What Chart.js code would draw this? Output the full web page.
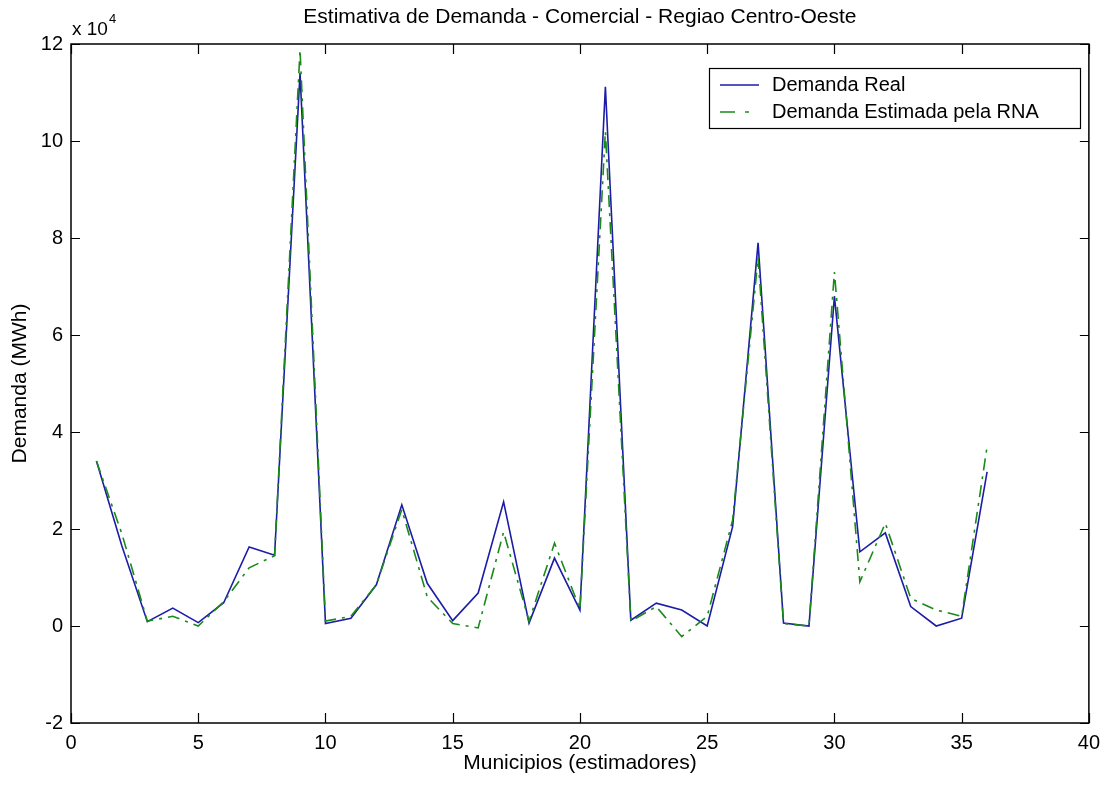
<!DOCTYPE html>
<html>
<head>
<meta charset="utf-8">
<script src="https://cdn.jsdelivr.net/npm/chart.js@4.4.0/dist/chart.umd.min.js"></script>
<style>
  html, body { margin: 0; padding: 0; background: #fff; }
  #wrap { width: 1108px; height: 785px; }
</style>
</head>
<body>
<div id="wrap"><canvas id="chart1" width="1108" height="785"></canvas></div>
<script>
// municipios 1..36, demanda em MWh
const municipios = [1,2,3,4,5,6,7,8,9,10,11,12,13,14,15,16,17,18,19,20,21,22,23,24,25,26,27,28,29,30,31,32,33,34,35,36];
const demandaReal = [34000, 16500, 900, 3700, 700, 4800, 16300, 14600, 114000, 500, 1600, 8500, 25000, 8800, 1100, 6800, 25600, 600, 14000, 3300, 111200, 1200, 4700, 3300, 0, 20500, 79000, 600, 0, 68000, 15300, 19200, 4000, 0, 1600, 31800];
const demandaRNA = [34000, 19000, 1000, 2000, 0, 5000, 12000, 14500, 118800, 1000, 2000, 8500, 24000, 6000, 500, -400, 19400, 1000, 17100, 3500, 102000, 1000, 4000, -2200, 2000, 21800, 76000, 500, 0, 73000, 9100, 21200, 5700, 3300, 2000, 37000];
const xTicks = [0, 5, 10, 15, 20, 25, 30, 35, 40];
const yTicks = [-20000, 0, 20000, 40000, 60000, 80000, 100000, 120000];
const titulo = 'Estimativa de Demanda - Comercial - Regiao Centro-Oeste';

const fontFam = "'Liberation Sans', Arial, sans-serif";

const toPts = (ys) => ys.map((y, i) => ({ x: municipios[i], y: y }));

// moldura estilo matlab, ticks para dentro + titulo + legenda + "x 10^4"
const matlabBox = {
  id: 'matlabBox',
  afterDatasetsDraw(chart) {
    const ctx = chart.ctx;
    const a = chart.chartArea;
    const xs = chart.scales.x, ys = chart.scales.y;
    ctx.save();
    ctx.strokeStyle = '#000';
    ctx.lineWidth = 1.5;
    ctx.strokeRect(a.left, a.top, a.right - a.left, a.bottom - a.top);
    ctx.lineWidth = 1.2;
    ctx.beginPath();
    xTicks.forEach(v => {
      const px = Math.round(xs.getPixelForValue(v)) + 0.5;
      ctx.moveTo(px, a.bottom); ctx.lineTo(px, a.bottom - 10);
      ctx.moveTo(px, a.top); ctx.lineTo(px, a.top + 10);
    });
    yTicks.forEach(v => {
      const py = Math.round(ys.getPixelForValue(v)) + 0.5;
      ctx.moveTo(a.left, py); ctx.lineTo(a.left + 9, py);
      ctx.moveTo(a.right, py); ctx.lineTo(a.right - 9, py);
    });
    ctx.stroke();

    // titulo centrado no eixo
    ctx.fillStyle = '#000';
    ctx.textAlign = 'center';
    ctx.textBaseline = 'middle';
    ctx.font = '21px ' + fontFam;
    ctx.fillText(titulo, (a.left + a.right) / 2, 17);

    // expoente
    ctx.textBaseline = 'alphabetic';
    ctx.textAlign = 'left';
    ctx.font = '19px ' + fontFam;
    ctx.fillText('x 10', 72, 35);
    const w = ctx.measureText('x 10').width;
    ctx.font = '13px ' + fontFam;
    ctx.fillText('4', 72 + w + 1, 23);

    // legenda
    const lx = 709, ly = 68, lw = 371, lh = 60;
    ctx.fillStyle = '#fff';
    ctx.fillRect(lx, ly, lw, lh);
    ctx.strokeStyle = '#000';
    ctx.lineWidth = 1.2;
    ctx.strokeRect(lx + 0.5, ly + 0.5, lw, lh);
    ctx.font = '20px ' + fontFam;
    ctx.textBaseline = 'middle';
    chart.data.datasets.forEach((ds, i) => {
      const cy = ly + 17 + i * 27;
      ctx.strokeStyle = ds.borderColor;
      ctx.lineWidth = ds.borderWidth;
      ctx.setLineDash(i === 1 ? [15, 10, 4, 10] : []);
      ctx.beginPath();
      ctx.moveTo(720, cy); ctx.lineTo(759, cy);
      ctx.stroke();
      ctx.setLineDash([]);
      ctx.fillStyle = '#000';
      ctx.fillText(ds.label, 772, cy);
    });
    ctx.restore();
  }
};

const config = {
  type: 'line',
  data: {
    datasets: [
      {
        label: 'Demanda Real',
        data: toPts(demandaReal),
        borderColor: '#1c1ca8',
        borderWidth: 1.6,
        pointRadius: 0,
        tension: 0,
        order: 1
      },
      {
        label: 'Demanda Estimada pela RNA',
        data: toPts(demandaRNA),
        borderColor: '#1a8a1a',
        borderWidth: 1.6,
        borderDash: [12, 6, 3, 6],
        pointRadius: 0,
        tension: 0,
        order: 0
      }
    ]
  },
  options: {
    responsive: false,
    animation: false,
    layout: { padding: { left: 0, right: 16, top: 44, bottom: 0 } },
    plugins: {
      legend: { display: false },
      tooltip: { enabled: false },
      title: { display: false }
    },
    scales: {
      x: {
        type: 'linear',
        min: 0,
        max: 40,
        afterFit: (s) => { s.height = 62; },
        afterBuildTicks: (s) => { s.ticks = xTicks.map(v => ({ value: v })); },
        grid: { display: false, drawTicks: false },
        border: { display: false },
        ticks: {
          color: '#000',
          font: { family: fontFam, size: 20 },
          padding: 8,
          maxRotation: 0
        },
        title: {
          display: true,
          text: 'Municipios (estimadores)',
          color: '#000',
          font: { family: fontFam, size: 21 },
          padding: { top: 0, bottom: 9 }
        }
      },
      y: {
        min: -20000,
        max: 120000,
        afterFit: (s) => { s.width = 71; },
        afterBuildTicks: (s) => { s.ticks = yTicks.map(v => ({ value: v })); },
        grid: { display: false, drawTicks: false },
        border: { display: false },
        ticks: {
          color: '#000',
          font: { family: fontFam, size: 20 },
          padding: 8,
          callback: (v) => (v / 10000).toString()
        },
        title: {
          display: true,
          text: 'Demanda (MWh)',
          color: '#000',
          font: { family: fontFam, size: 21 },
          padding: { top: 8, bottom: 0 }
        }
      }
    }
  },
  plugins: [matlabBox]
};

var chart = new Chart(document.getElementById('chart1'), config);
</script>
</body>
</html>
